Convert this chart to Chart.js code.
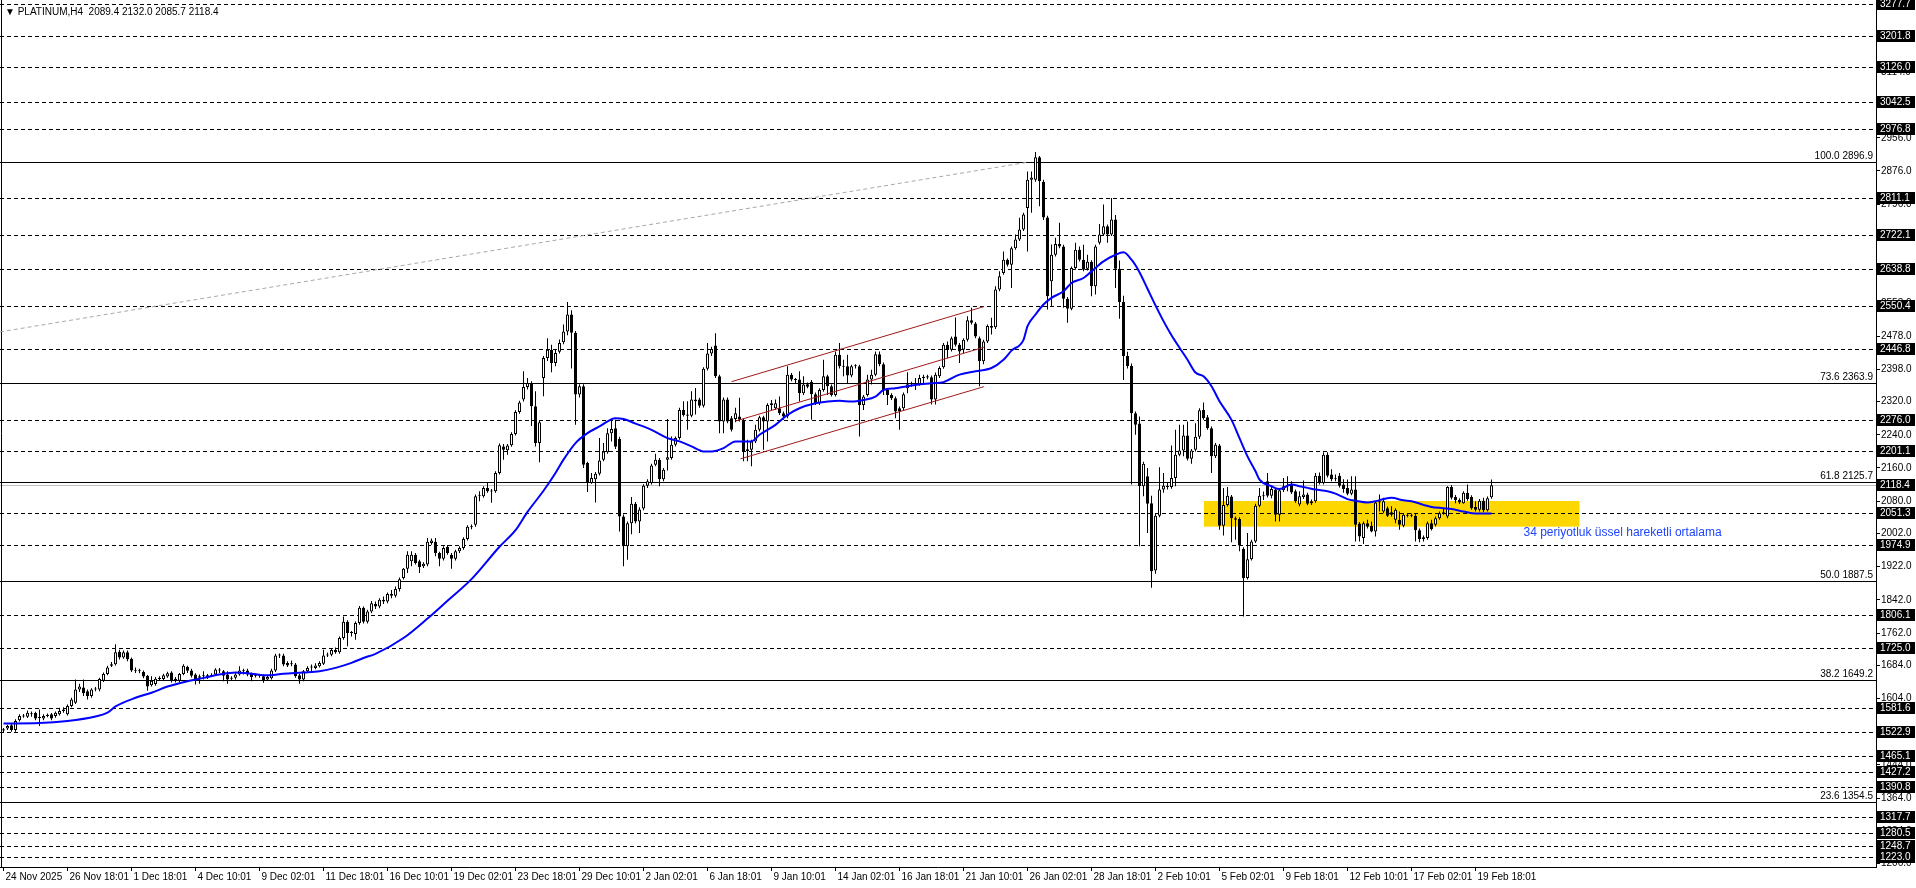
<!DOCTYPE html>
<html>
<head>
<meta charset="utf-8">
<script src="https://cdn.jsdelivr.net/npm/chart.js@4.4.1/dist/chart.umd.min.js"></script>
<style>
  html, body { margin: 0; padding: 0; background: #fff; overflow: hidden; }
  canvas { display: block; }
</style>
</head>
<body>
<canvas id="chart" width="1916" height="888"></canvas>
<script>
// PLATINUM H4 candles, index 0 = 24 Nov 2025
const opens = [
1527,1532,1540,1528,1552,1561,1560,1566,1569,1557,
1556,1562,1566,1562,1566,1574,1566,1586,1594,1626,
1631,1622,1610,1626,1626,1647,1663,1683,1687,1717,
1703,1716,1700,1672,1670,1668,1659,1636,1639,1651,
1651,1657,1667,1652,1647,1663,1681,1672,1662,1654,
1658,1654,1659,1662,1672,1670,1662,1652,1654,1662,
1670,1672,1664,1659,1660,1658,1650,1653,1672,1708,
1708,1690,1687,1686,1660,1650,1670,1679,1678,1682,
1688,1708,1710,1722,1716,1750,1789,1762,1760,1786,
1823,1789,1814,1832,1826,1842,1838,1856,1852,1868,
1895,1917,1935,1951,1935,1923,1927,1979,1982,1955,
1941,1970,1951,1941,1959,1967,1989,2018,2023,2092,
2092,2112,2105,2104,2148,2212,2203,2215,2242,2295,
2325,2355,2365,2309,2220,2377,2425,2445,2413,2440,
2463,2489,2530,2486,2337,2357,2172,2124,2133,2146,
2180,2198,2244,2256,2230,2043,1971,2027,2074,2031,
2062,2117,2124,2168,2180,2133,2180,2184,2216,2232,
2300,2289,2286,2325,2325,2310,2399,2436,2455,2381,
2272,2325,2280,2278,2284,2276,2201,2204,2224,2252,
2282,2272,2312,2304,2304,2292,2284,2385,2373,2373,
2340,2362,2368,2338,2316,2348,2381,2357,2336,2433,
2406,2405,2383,2405,2405,2312,2336,2373,2385,2434,
2410,2348,2336,2328,2304,2304,2352,2362,2363,2362,
2377,2381,2379,2325,2381,2403,2457,2445,2477,2457,
2445,2469,2516,2508,2473,2417,2465,2502,2499,2590,
2630,2662,2650,2690,2711,2735,2787,2855,2855,2909,
2850,2764,2610,2674,2700,2694,2568,2544,2642,2686,
2662,2640,2657,2598,2703,2723,2743,2723,2759,2640,
2560,2430,2406,2292,2267,2116,2140,2075,1913,2045,
2108,2114,2114,2136,2192,2202,2238,2182,2204,2235,
2300,2282,2256,2188,2214,2021,2071,2091,2039,2037,
1965,1895,1940,1983,2069,2093,2128,2093,2108,2047,
2106,2117,2122,2104,2072,2090,2096,2075,2080,2141,
2124,2192,2144,2133,2141,2120,2112,2098,2108,2026,
1991,2027,2021,2007,2077,2055,2063,2053,2035,2035,
2021,2045,2046,2045,2010,1993,1991,2027,2023,2039,
2051,2043,2114,2090,2083,2075,2100,2090,2066,2059,
2081,2058,2089.4
];
const highs = [
1533,1541,1543,1554,1566,1567,1575,1573,1572,1578,
1566,1568,1569,1573,1582,1583,1590,1606,1650,1640,
1650,1626,1629,1632,1654,1667,1683,1692,1735,1722,
1720,1720,1703,1679,1676,1672,1661,1658,1656,1658,
1664,1669,1670,1656,1666,1687,1683,1676,1665,1662,
1670,1663,1665,1677,1678,1673,1670,1658,1665,1682,
1676,1676,1667,1664,1663,1662,1660,1676,1712,1713,
1712,1694,1696,1690,1663,1673,1682,1686,1689,1694,
1722,1715,1725,1727,1754,1802,1793,1767,1790,1827,
1826,1818,1839,1838,1846,1850,1860,1866,1874,1896,
1919,1959,1959,1955,1939,1933,1991,1990,1991,1958,
1971,1974,1955,1963,1971,1993,2022,2024,2096,2104,
2116,2124,2109,2152,2219,2218,2218,2246,2299,2322,
2393,2377,2369,2345,2274,2430,2473,2457,2446,2470,
2506,2560,2540,2490,2362,2362,2175,2148,2150,2232,
2220,2256,2276,2276,2235,2048,2031,2090,2078,2065,
2121,2133,2170,2194,2184,2160,2278,2236,2236,2305,
2321,2321,2345,2353,2329,2403,2461,2452,2485,2385,
2330,2330,2285,2305,2329,2280,2228,2228,2264,2286,
2286,2316,2324,2325,2332,2296,2405,2389,2377,2393,
2381,2366,2372,2342,2352,2421,2385,2361,2441,2461,
2421,2433,2409,2410,2409,2336,2385,2397,2441,2441,
2414,2352,2340,2332,2308,2342,2391,2368,2377,2385,
2385,2385,2383,2390,2405,2461,2465,2477,2523,2461,
2473,2526,2546,2512,2477,2469,2506,2522,2598,2634,
2682,2665,2694,2723,2763,2775,2875,2875,2922,2912,
2855,2768,2699,2715,2751,2698,2572,2646,2703,2694,
2698,2674,2661,2698,2748,2795,2747,2811,2770,2660,
2575,2440,2412,2296,2284,2175,2160,2093,2049,2162,
2148,2124,2214,2252,2264,2264,2272,2206,2268,2304,
2318,2288,2260,2220,2218,2112,2114,2095,2043,2041,
1969,2003,1987,2074,2112,2103,2148,2117,2112,2110,
2136,2140,2128,2108,2104,2130,2100,2084,2148,2149,
2198,2198,2157,2144,2148,2133,2132,2140,2140,2030,
2031,2035,2031,2081,2096,2088,2067,2068,2063,2055,
2051,2050,2050,2049,2014,1997,2031,2035,2043,2055,
2063,2116,2119,2095,2087,2104,2120,2094,2080,2085,
2088,2091,2132.0
];
const lows = [
1523,1528,1524,1524,1549,1558,1557,1560,1552,1538,
1552,1559,1552,1558,1563,1570,1563,1583,1591,1620,
1610,1602,1606,1622,1622,1644,1660,1680,1684,1698,
1700,1694,1668,1666,1665,1653,1623,1633,1635,1648,
1647,1654,1643,1643,1643,1660,1666,1655,1638,1640,
1650,1651,1656,1659,1666,1646,1640,1647,1650,1659,
1662,1658,1646,1655,1654,1642,1647,1650,1668,1702,
1682,1680,1682,1654,1640,1646,1667,1670,1675,1679,
1685,1704,1706,1712,1712,1746,1730,1754,1746,1782,
1785,1785,1810,1820,1822,1832,1834,1846,1848,1862,
1891,1907,1923,1927,1907,1919,1923,1975,1947,1923,
1937,1951,1917,1937,1955,1963,1985,2012,2018,2080,
2088,2100,2076,2100,2144,2180,2192,2211,2238,2291,
2320,2349,2261,2212,2174,2333,2418,2391,2405,2436,
2458,2480,2400,2264,2330,2160,2102,2122,2077,2142,
2176,2194,2224,2206,2007,1923,1939,2000,2026,2003,
2058,2112,2120,2164,2116,2128,2154,2180,2212,2228,
2284,2252,2282,2289,2305,2306,2395,2430,2377,2244,
2244,2268,2248,2270,2272,2176,2176,2164,2220,2248,
2204,2224,2300,2300,2288,2276,2280,2369,2365,2320,
2336,2352,2276,2312,2312,2344,2336,2332,2332,2400,
2381,2365,2379,2400,2236,2300,2332,2361,2381,2405,
2336,2312,2324,2280,2252,2300,2340,2356,2348,2358,
2364,2374,2313,2313,2377,2399,2425,2441,2453,2413,
2437,2465,2506,2473,2357,2410,2461,2482,2495,2586,
2626,2646,2594,2686,2707,2731,2682,2775,2850,2791,
2758,2542,2550,2670,2690,2546,2510,2540,2638,2658,
2634,2636,2574,2578,2699,2719,2703,2719,2594,2520,
2372,2400,2120,2240,1971,2092,2003,1871,1905,2041,
2100,2108,2110,2116,2188,2188,2178,2170,2200,2230,
2276,2252,2148,2184,2011,1997,2067,1981,1987,1959,
1802,1891,1937,1979,2065,2083,2089,2087,2031,2031,
2102,2104,2097,2076,2068,2085,2070,2071,2076,2120,
2120,2137,2128,2128,2113,2100,2094,2094,1983,1983,
1977,2014,2005,1995,2055,2051,2042,2043,2027,2011,
2017,2041,2041,1983,1981,1983,1987,2009,2019,2035,
2047,2039,2084,2075,2073,2074,2081,2059,2055,2055,
2054,2055,2085.7
];
const closes = [
1530,1538,1528,1550,1562,1563,1570,1567,1556,1558,
1562,1565,1556,1570,1574,1578,1586,1602,1626,1633,
1617,1610,1626,1628,1651,1663,1679,1687,1716,1703,
1716,1699,1672,1670,1672,1657,1633,1647,1652,1654,
1660,1665,1647,1647,1663,1683,1671,1659,1650,1658,
1659,1660,1661,1674,1673,1659,1650,1654,1662,1672,
1670,1662,1656,1660,1659,1648,1656,1672,1708,1709,
1686,1684,1688,1658,1650,1670,1678,1680,1684,1690,
1708,1710,1721,1716,1750,1789,1762,1763,1786,1823,
1789,1814,1834,1826,1842,1838,1856,1852,1868,1892,
1917,1951,1951,1931,1921,1929,1982,1985,1955,1941,
1967,1955,1941,1959,1967,1989,2018,2017,2092,2093,
2112,2104,2103,2148,2215,2204,2214,2242,2295,2318,
2355,2365,2309,2220,2270,2425,2445,2413,2437,2461,
2489,2530,2486,2337,2357,2168,2124,2136,2146,2178,
2200,2244,2254,2211,2043,1971,2027,2074,2031,2060,
2117,2128,2166,2180,2133,2156,2186,2216,2232,2300,
2288,2286,2325,2321,2310,2399,2436,2447,2381,2272,
2325,2272,2252,2292,2276,2201,2205,2224,2252,2282,
2272,2312,2316,2316,2292,2284,2385,2373,2372,2340,
2361,2356,2338,2316,2348,2381,2357,2336,2433,2405,
2404,2383,2405,2406,2312,2332,2373,2385,2434,2410,
2348,2336,2328,2296,2296,2338,2362,2363,2362,2377,
2380,2378,2325,2385,2401,2457,2445,2473,2457,2441,
2469,2516,2510,2477,2417,2465,2502,2498,2590,2622,
2662,2650,2690,2711,2735,2771,2855,2860,2909,2851,
2764,2574,2674,2700,2694,2568,2544,2642,2686,2662,
2638,2657,2598,2694,2723,2743,2723,2759,2640,2560,
2430,2406,2292,2264,2116,2170,2074,1911,2045,2108,
2117,2115,2136,2192,2202,2238,2182,2202,2235,2299,
2280,2256,2188,2216,2021,2071,2093,2039,2035,1973,
1895,1940,1983,2069,2093,2092,2093,2109,2047,2106,
2116,2118,2101,2080,2092,2096,2074,2080,2141,2124,
2192,2141,2133,2134,2117,2109,2098,2108,2023,1995,
2027,2018,2007,2077,2080,2080,2045,2047,2059,2023,
2047,2046,2045,2010,1989,1989,2027,2013,2039,2051,
2053,2114,2088,2082,2077,2100,2085,2063,2059,2081,
2058,2087,2118.4
];

// 34 period EMA (bar index, price)
const emaBars = [0,9,16,23,26,28,33,37,41,46,50,54,58,62,66,70,75,79,83,87,90,93,100,106,111,117,124,128,131,135,
  138,140,143,146,149,153,155,158,162,166,169,172,175,177,180,183,187,189,193,196,199,203,206,209,212,215,218,220,223,228,
  232,235,239,243,247,250,252,255,256,258,260,262,265,267,270,272,275,278,280,282,284,286,288,290,292,294,296,298,300,302,
  304,307,309,311,313,314,317,319,322,324,326,328,331,333,336,338,341,343,345,347,350,352,355,357,360,362,365,368,372];
const emaVals = [1544,1545,1550,1561,1570,1585,1606,1618,1633,1646,1654,1662,1667,1664,1660,1664,1667,1670,1678,1690,1702,1712,1750,1797,1840,1892,1970,2010,2054,2105,
  2148,2180,2220,2244,2260,2280,2278,2267,2252,2232,2224,2212,2200,2200,2208,2224,2224,2240,2264,2288,2304,2316,2320,2322,2320,2324,2332,2348,2352,2360,
  2364,2367,2385,2393,2401,2421,2443,2469,2502,2530,2554,2570,2586,2606,2618,2634,2658,2674,2680,2662,2632,2592,2552,2514,2480,2450,2421,2390,2381,2357,
  2321,2276,2232,2188,2152,2132,2116,2109,2120,2116,2112,2108,2104,2098,2085,2081,2077,2080,2085,2088,2082,2080,2071,2066,2063,2061,2055,2050,2050];

const xTickLabels = ['24 Nov 2025','26 Nov 18:01','1 Dec 18:01','4 Dec 10:01','9 Dec 02:01','11 Dec 18:01','16 Dec 10:01',
  '19 Dec 02:01','23 Dec 18:01','29 Dec 10:01','2 Jan 02:01','6 Jan 18:01','9 Jan 10:01','14 Jan 02:01','16 Jan 18:01',
  '21 Jan 10:01','26 Jan 02:01','28 Jan 18:01','2 Feb 10:01','5 Feb 02:01','9 Feb 18:01','12 Feb 10:01','17 Feb 02:01','19 Feb 18:01'];
const yTickValues = [3194,3114,3036,2956,2876,2796,2716,2636,2558,2478,2398,2320,2240,2160,2080,2002,1922,1842,1762,1684,1604,1524,1444,1364,1284,1206];

// horizontal levels
const levelPrices = [3277.7,3201.8,3126.0,3042.5,2976.8,2811.1,2722.1,2638.8,2550.4,2446.8,2276.0,2201.1,2051.3,1974.9,
  1806.1,1725.0,1581.6,1522.9,1465.1,1427.2,1390.8,1317.7,1280.5,1248.7,1223.0];
const fibLevels = [100.0, 73.6, 61.8, 50.0, 38.2, 23.6];
const fibPrices = [2896.9, 2363.9, 2125.7, 1887.5, 1649.2, 1354.5];
const bidPrice = 2118.4;
const fibDiagBars = [-0.875, 255.9];
const fibDiagPrices = [2488, 2896.9];

// red price channel
const channelStartBars = [182, 183, 184.25];
const channelEndBars = [245.1, 245.1, 245.1];
const channelStartPrices = [2368, 2273, 2182];
const channelEndPrices = [2549, 2451, 2356];

// yellow zone + note
const zoneBars = [300.1, 394];
const zonePrices = [2018.5, 2080.4];
const noteText = '34 periyotluk üssel hareketli ortalama';
const noteBar = 380, notePrice = 2003;
const header = '\u25BC PLATINUM,H4  2089.4 2132.0 2085.7 2118.4';

const FONT = '"Liberation Sans", Arial, sans-serif';

const overlay = {
  id: 'overlay',
  beforeDatasetsDraw(chart) {
    const { ctx, chartArea: a, scales: { x, y } } = chart;
    ctx.save();
    ctx.beginPath();
    ctx.rect(a.left, a.top, a.right - a.left, a.bottom - a.top);
    ctx.clip();
    // yellow zone
    const zx0 = x.getPixelForValue(zoneBars[0]), zx1 = x.getPixelForValue(zoneBars[1]);
    const zy0 = y.getPixelForValue(zonePrices[1]), zy1 = y.getPixelForValue(zonePrices[0]);
    ctx.fillStyle = '#FFD700';
    ctx.fillRect(zx0, zy0, zx1 - zx0, zy1 - zy0);
    // dashed levels
    ctx.strokeStyle = '#000';
    ctx.lineWidth = 1;
    ctx.setLineDash([4, 3]);
    levelPrices.forEach(p => {
      const py = Math.round(y.getPixelForValue(p)) + 0.5;
      ctx.beginPath(); ctx.moveTo(a.left, py); ctx.lineTo(a.right, py); ctx.stroke();
    });
    ctx.setLineDash([]);
    // bid line
    const by = Math.round(y.getPixelForValue(bidPrice)) + 0.5;
    ctx.strokeStyle = '#C0C0C0';
    ctx.beginPath(); ctx.moveTo(a.left, by); ctx.lineTo(a.right, by); ctx.stroke();
    // fibo levels
    ctx.strokeStyle = '#000';
    ctx.fillStyle = '#000';
    ctx.font = '10px ' + FONT;
    ctx.textAlign = 'right';
    ctx.textBaseline = 'bottom';
    fibPrices.forEach((p, i) => {
      const py = Math.round(y.getPixelForValue(p)) + 0.5;
      ctx.beginPath(); ctx.moveTo(a.left, py); ctx.lineTo(a.right, py); ctx.stroke();
      ctx.fillText(fibLevels[i].toFixed(1) + ' ' + p.toFixed(1), a.right - 3, py - 1);
    });
    // left frame
    ctx.beginPath(); ctx.moveTo(1.5, a.top); ctx.lineTo(1.5, a.bottom); ctx.stroke();
    ctx.restore();
  },
  afterDatasetsDraw(chart) {
    const { ctx, scales: { x, y } } = chart;
    ctx.save();
    ctx.font = '12px ' + FONT;
    ctx.fillStyle = '#1F45FF';
    ctx.textAlign = 'left';
    ctx.textBaseline = 'middle';
    ctx.fillText(noteText, x.getPixelForValue(noteBar), y.getPixelForValue(notePrice));
    ctx.font = '10px ' + FONT;
    ctx.fillStyle = '#000';
    ctx.fillText(header, 5, 12);
    ctx.restore();
  },
  afterDraw(chart) {
    const { ctx, chartArea: a, scales: { y } } = chart;
    ctx.save();
    ctx.font = '10px ' + FONT;
    ctx.textAlign = 'left';
    ctx.textBaseline = 'middle';
    levelPrices.concat([bidPrice]).forEach(p => {
      const py = Math.round(y.getPixelForValue(p));
      ctx.fillStyle = '#000';
      ctx.fillRect(a.right + 1, py - 6, 38, 12);
      ctx.fillStyle = '#fff';
      ctx.fillText(p.toFixed(1), a.right + 4, py + 0.5);
    });
    ctx.restore();
  }
};

const channelSets = channelStartBars.map((b, i) => ({
  type: 'line',
  data: [{ x: b, y: channelStartPrices[i] }, { x: channelEndBars[i], y: channelEndPrices[i] }],
  borderColor: '#A01818', borderWidth: 1, pointRadius: 0, order: 1
}));

new Chart(document.getElementById('chart'), {
  type: 'bar',
  data: {
    datasets: [
      {
        type: 'line', label: 'EMA34',
        data: emaBars.map((b, i) => ({ x: b, y: emaVals[i] })),
        borderColor: '#0000FF', borderWidth: 2, pointRadius: 0,
        cubicInterpolationMode: 'monotone', order: 0
      },
      ...channelSets,
      {
        type: 'line',
        data: fibDiagBars.map((b, i) => ({ x: b, y: fibDiagPrices[i] })),
        borderColor: '#A8A8A8', borderWidth: 1, borderDash: [4, 3], pointRadius: 0, order: 5
      },
      {
        label: 'body',
        data: opens.map((o, i) => ({ x: i, y: [o, closes[i]] })),
        backgroundColor: opens.map((o, i) => closes[i] >= o ? '#FFFFFF' : '#000000'),
        borderColor: '#000', borderWidth: 1, borderSkipped: false, inflateAmount: 0,
        grouped: false, barPercentage: 0.75, categoryPercentage: 1, minBarLength: 1, order: 2
      },
      {
        label: 'wick',
        data: lows.map((l, i) => ({ x: i, y: [l, highs[i]] })),
        backgroundColor: '#000', borderWidth: 0, inflateAmount: 0,
        grouped: false, barPercentage: 0.25, categoryPercentage: 1, order: 3
      }
    ]
  },
  options: {
    responsive: false,
    devicePixelRatio: 1,
    animation: false,
    events: [],
    layout: { padding: 0 },
    plugins: { legend: { display: false }, tooltip: { enabled: false } },
    scales: {
      x: {
        type: 'linear', min: -0.875, max: 468.125, offset: false,
        grid: { drawOnChartArea: false, offset: false, tickLength: 4, color: '#000', tickColor: '#000' },
        border: { display: true, color: '#000' },
        afterBuildTicks: s => { s.ticks = xTickLabels.map((_, k) => ({ value: k * 16 })); },
        afterFit: s => { s.height = 21; s.paddingLeft = 0; s.paddingRight = 0; },
        ticks: {
          autoSkip: false, maxRotation: 0, minRotation: 0, align: 'start', labelOffset: 2, padding: 0,
          color: '#000', font: { family: FONT, size: 10 },
          callback: v => xTickLabels[Math.round(v / 16)]
        }
      },
      y: {
        type: 'linear', position: 'right', min: 1198.0, max: 3288.2,
        grid: { drawOnChartArea: false, tickLength: 4, color: '#000', tickColor: '#000' },
        border: { display: true, color: '#000' },
        afterBuildTicks: s => { s.ticks = yTickValues.map(v => ({ value: v })); },
        afterFit: s => { s.width = 40; s.paddingTop = 0; s.paddingBottom = 0; },
        ticks: {
          autoSkip: false, padding: 1, color: '#000', font: { family: FONT, size: 10 },
          callback: v => v.toFixed(1)
        }
      }
    }
  },
  plugins: [overlay]
});
</script>
</body>
</html>
